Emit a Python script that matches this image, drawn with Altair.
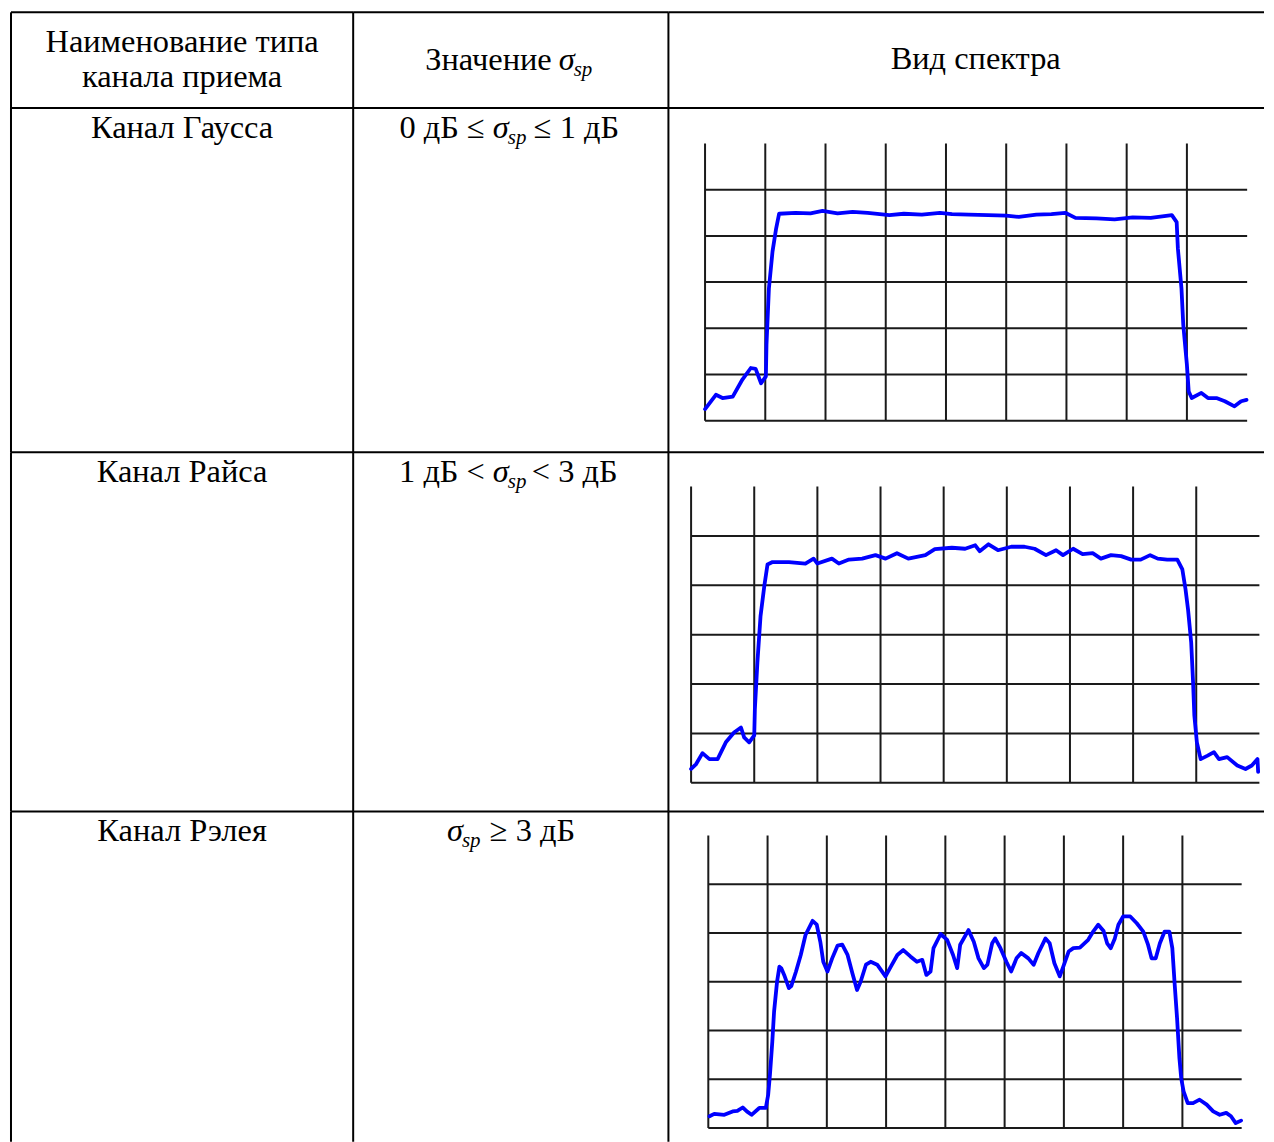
import altair as alt
import pandas as pd

FONT = "Liberation Serif"

# ---- texts ----
header_col1 = ["Наименование типа", "канала приема"]
header_col2 = "Значение"
header_col3 = "Вид спектра"
channel_names = ["Канал Гаусса", "Канал Райса", "Канал Рэлея"]
cond_left = ["0 дБ ≤", "1 дБ <", ""]
cond_right = ["≤ 1 дБ", "< 3 дБ", "≥ 3 дБ"]
sigma = "σ"
sub = "sp"

# ---- spectrum grid (divisions) ----
grid_x = [0, 1, 2, 3, 4, 5, 6, 7, 8]
grid_y = [0, 1, 2, 3, 4, 5]
grid_x_max = 9
grid_y_max = 6

# ---- spectra (frequency division, level division) ----
gauss = [
    (0.00, 0.25), (0.18, 0.56), (0.29, 0.49), (0.46, 0.52), (0.62, 0.89),
    (0.76, 1.14), (0.84, 1.12), (0.93, 0.81), (1.01, 0.96), (1.02, 1.64),
    (1.06, 2.86), (1.12, 3.66), (1.18, 4.16), (1.23, 4.48), (1.50, 4.50),
    (1.75, 4.49), (1.95, 4.54), (2.20, 4.49), (2.45, 4.52), (2.70, 4.50),
    (3.06, 4.45), (3.30, 4.48), (3.60, 4.46), (3.90, 4.50), (4.10, 4.47),
    (4.38, 4.46), (4.70, 4.45), (5.00, 4.44), (5.21, 4.41), (5.50, 4.46),
    (5.75, 4.47), (5.98, 4.50), (6.15, 4.39), (6.50, 4.38), (6.80, 4.36),
    (7.10, 4.40), (7.40, 4.39), (7.75, 4.45), (7.83, 4.30), (7.85, 3.73),
    (7.91, 2.86), (7.94, 2.07), (8.00, 1.21), (8.03, 0.63), (8.08, 0.49),
    (8.24, 0.60), (8.35, 0.49), (8.49, 0.49), (8.63, 0.42), (8.79, 0.31),
    (8.90, 0.42), (8.99, 0.45),
]
rice = [
    (0.00, 0.28), (0.08, 0.38), (0.18, 0.60), (0.29, 0.48), (0.42, 0.48),
    (0.55, 0.82), (0.68, 1.02), (0.79, 1.12), (0.84, 0.92), (0.92, 0.82),
    (1.00, 0.96), (1.01, 1.49), (1.05, 2.44), (1.10, 3.38), (1.16, 3.99),
    (1.21, 4.42), (1.29, 4.47), (1.55, 4.47), (1.81, 4.44), (1.94, 4.54),
    (2.00, 4.44), (2.23, 4.54), (2.34, 4.44), (2.50, 4.52), (2.71, 4.54),
    (2.92, 4.61), (3.08, 4.54), (3.26, 4.65), (3.44, 4.54), (3.71, 4.61),
    (3.86, 4.73), (4.13, 4.76), (4.34, 4.74), (4.50, 4.81), (4.57, 4.69),
    (4.71, 4.83), (4.86, 4.71), (5.07, 4.78), (5.28, 4.78), (5.44, 4.74),
    (5.62, 4.61), (5.78, 4.71), (5.89, 4.61), (6.05, 4.74), (6.20, 4.63),
    (6.36, 4.65), (6.49, 4.54), (6.65, 4.61), (6.81, 4.59), (6.97, 4.52),
    (7.12, 4.52), (7.27, 4.61), (7.39, 4.54), (7.54, 4.52), (7.70, 4.52),
    (7.78, 4.32), (7.83, 3.92), (7.87, 3.51), (7.92, 2.84), (7.95, 2.03),
    (7.97, 1.36), (8.01, 0.82), (8.07, 0.48), (8.18, 0.55), (8.28, 0.62),
    (8.36, 0.48), (8.49, 0.52), (8.65, 0.35), (8.78, 0.28), (8.88, 0.35),
    (8.97, 0.48), (8.98, 0.22),
]
rayleigh = [
    (0.02, 0.24), (0.10, 0.29), (0.27, 0.27), (0.41, 0.34), (0.49, 0.35),
    (0.58, 0.42), (0.65, 0.34), (0.73, 0.27), (0.86, 0.41), (0.97, 0.41),
    (1.01, 0.68), (1.04, 1.09), (1.08, 1.77), (1.11, 2.39), (1.16, 3.00),
    (1.20, 3.31), (1.23, 3.28), (1.28, 3.14), (1.36, 2.87), (1.40, 2.91),
    (1.48, 3.21), (1.56, 3.55), (1.64, 3.96), (1.76, 4.25), (1.83, 4.17),
    (1.89, 3.82), (1.94, 3.41), (2.01, 3.21), (2.09, 3.48), (2.18, 3.74),
    (2.26, 3.76), (2.35, 3.55), (2.43, 3.18), (2.51, 2.83), (2.57, 3.00),
    (2.66, 3.35), (2.74, 3.41), (2.85, 3.35), (2.99, 3.11), (3.08, 3.31),
    (3.19, 3.55), (3.29, 3.65), (3.41, 3.52), (3.52, 3.41), (3.61, 3.45),
    (3.68, 3.14), (3.75, 3.21), (3.80, 3.69), (3.92, 3.98), (4.03, 3.86),
    (4.13, 3.55), (4.20, 3.28), (4.25, 3.76), (4.39, 4.06), (4.48, 3.82),
    (4.56, 3.48), (4.65, 3.28), (4.71, 3.35), (4.79, 3.79), (4.84, 3.89),
    (4.93, 3.69), (5.03, 3.41), (5.11, 3.21), (5.20, 3.48), (5.28, 3.59),
    (5.40, 3.48), (5.49, 3.35), (5.57, 3.59), (5.69, 3.89), (5.76, 3.79),
    (5.84, 3.38), (5.93, 3.11), (5.99, 3.31), (6.08, 3.62), (6.16, 3.69),
    (6.27, 3.70), (6.41, 3.86), (6.50, 4.04), (6.58, 4.17), (6.67, 4.04),
    (6.73, 3.79), (6.79, 3.69), (6.86, 3.89), (6.92, 4.17), (7.00, 4.34),
    (7.12, 4.34), (7.23, 4.20), (7.34, 4.03), (7.42, 3.76), (7.48, 3.48),
    (7.55, 3.48), (7.62, 3.79), (7.70, 4.03), (7.78, 4.03), (7.83, 3.69),
    (7.87, 2.94), (7.91, 2.25), (7.95, 1.43), (7.98, 1.02), (8.02, 0.75),
    (8.09, 0.51), (8.18, 0.51), (8.29, 0.58), (8.41, 0.48), (8.52, 0.34),
    (8.63, 0.27), (8.74, 0.31), (8.82, 0.24), (8.90, 0.10), (8.99, 0.15),
]

# ---- layout (cell sizes) ----
col_w = [343, 316, 597]
row_h = [96, 345, 360, 331]
FS = 32.5
SUB_FS = 21
ONE = pd.DataFrame({"a": [0]})


def txt(s, x, y, size=FS, italic=False, align="center"):
    return alt.Chart(pd.DataFrame({"t": [s]})).mark_text(
        font=FONT, fontSize=size, fontStyle="italic" if italic else "normal",
        align=align, baseline="alphabetic", color="black",
    ).encode(x=alt.value(x), y=alt.value(y), text="t:N")


def borders(w, h):
    top = alt.Chart(ONE).mark_rule(color="black", strokeWidth=2).encode(
        x=alt.value(0), x2=alt.value(w), y=alt.value(0))
    left = alt.Chart(ONE).mark_rule(color="black", strokeWidth=2).encode(
        y=alt.value(0), y2=alt.value(h), x=alt.value(0))
    return [top, left]


def cell(pieces, w, h):
    return alt.layer(*(borders(w, h) + pieces)).properties(width=w, height=h)


def spectrum(points, xdom, ydom, w, h):
    xs = alt.Scale(domain=xdom, nice=False, zero=False)
    ys = alt.Scale(domain=ydom, nice=False, zero=False)
    vdf = pd.DataFrame({"gx": grid_x, "ya": [0] * len(grid_x), "yb": [grid_y_max] * len(grid_x)})
    hdf = pd.DataFrame({"gy": grid_y, "xa": [0] * len(grid_y), "xb": [grid_x_max] * len(grid_y)})
    sdf = pd.DataFrame(points, columns=["f", "p"])
    sdf["i"] = range(len(sdf))
    vr = alt.Chart(vdf).mark_rule(color="#1a1a1a", strokeWidth=2).encode(
        x=alt.X("gx:Q", scale=xs, axis=None),
        y=alt.Y("ya:Q", scale=ys, axis=None),
        y2="yb:Q",
    )
    hr = alt.Chart(hdf).mark_rule(color="#1a1a1a", strokeWidth=2).encode(
        y=alt.Y("gy:Q", scale=ys, axis=None),
        x=alt.X("xa:Q", scale=xs, axis=None),
        x2="xb:Q",
    )
    ln = alt.Chart(sdf).mark_line(color="#0000ff", strokeWidth=3.8, strokeJoin="round", strokeCap="round").encode(
        x=alt.X("f:Q", scale=xs, axis=None),
        y=alt.Y("p:Q", scale=ys, axis=None),
        order="i:Q",
    )
    return alt.layer(vr, hr, ln, *borders(w, h)).properties(width=w, height=h)


def sigma_pieces(x, y):
    return [txt(sigma, x, y, italic=True, align="left"),
            txt(sub, x + 15, y + 6, size=SUB_FS, italic=True, align="left")]


cells = []
# header row
cells.append(cell([txt(header_col1[0], col_w[0] / 2, 40), txt(header_col1[1], col_w[0] / 2, 75)], col_w[0], row_h[0]))
cells.append(cell([txt(header_col2, 199, 58, align="right")] + sigma_pieces(206, 58), col_w[1], row_h[0]))
cells.append(cell([txt(header_col3, 308, 57)], col_w[2], row_h[0]))

spectra = [gauss, rice, rayleigh]
xdoms = [[-0.608, 9.280], [-0.359, 9.073], [-0.673, 9.377]]
ydoms = [[-0.685, 6.767], [-0.580, 6.693], [-0.281, 6.495]]
sig_x = [140, 140, 94]
right_x = [181, 179, 137]

for k in range(3):
    h = row_h[k + 1]
    cells.append(cell([txt(channel_names[k], col_w[0] / 2, 30)], col_w[0], h))
    pieces = []
    if cond_left[k]:
        pieces.append(txt(cond_left[k], sig_x[k] - 8, 30, align="right"))
    pieces += sigma_pieces(sig_x[k], 30)
    pieces.append(txt(cond_right[k], right_x[k], 30, align="left"))
    cells.append(cell(pieces, col_w[1], h))
    cells.append(spectrum(spectra[k], xdoms[k], ydoms[k], col_w[2], h))

chart = alt.concat(*cells, columns=3, spacing=0, bounds="flush").properties(
    padding={"left": 1, "top": 1, "right": 0, "bottom": 0},
    background="white",
).configure_view(stroke="transparent").configure_concat(spacing=0)

chart.save("out.html", embed_options={"renderer": "svg", "actions": False})
